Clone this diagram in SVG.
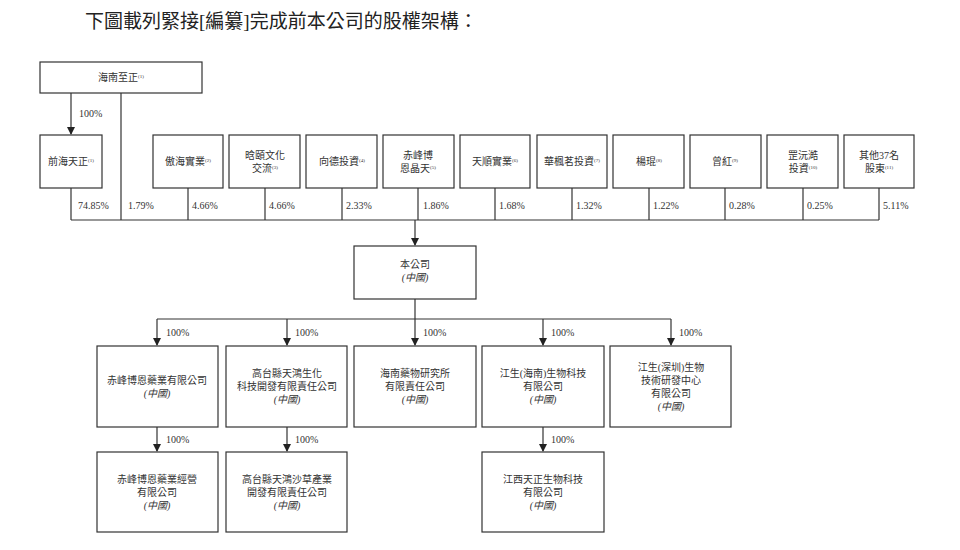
<svg xmlns="http://www.w3.org/2000/svg" width="960" height="550" viewBox="0 0 960 550">
<defs>
<marker id="ah" markerWidth="8" markerHeight="8" refX="7" refY="4" orient="auto" markerUnits="userSpaceOnUse"><path d="M0,0 L8,4 L0,8 z" fill="#222"/></marker>
<style>
rect{fill:#fff;stroke:#333;stroke-width:1.2}
text{font-family:"Liberation Serif","Noto Sans CJK TC",serif;font-size:10px;fill:#333;text-anchor:middle}
.s{font-size:5px}
.i{font-style:italic}
.p{text-anchor:start}
.t{font-size:19px;text-anchor:start;fill:#222}
#conn line,#conn path{stroke:#333;stroke-width:1.2;fill:none}
</style>
</defs>
<rect width="960" height="550" style="stroke:none"/>
<text class="t" x="85" y="28">下圖載列緊接[編纂]完成前本公司的股權架構：</text>
<g id="conn">
<line x1="71" y1="93" x2="71" y2="134" marker-end="url(#ah)"/>
<line x1="121" y1="93" x2="121" y2="220"/>
<line x1="71" y1="188" x2="71" y2="220"/>
<line x1="188" y1="188" x2="188" y2="220"/>
<line x1="265" y1="188" x2="265" y2="220"/>
<line x1="342" y1="188" x2="342" y2="220"/>
<line x1="418" y1="188" x2="418" y2="220"/>
<line x1="495" y1="188" x2="495" y2="220"/>
<line x1="572" y1="188" x2="572" y2="220"/>
<line x1="649" y1="188" x2="649" y2="220"/>
<line x1="725" y1="188" x2="725" y2="220"/>
<line x1="803" y1="188" x2="803" y2="220"/>
<line x1="879" y1="188" x2="879" y2="220"/>
<line x1="71" y1="220" x2="879" y2="220"/>
<line x1="415" y1="220" x2="415" y2="245" marker-end="url(#ah)"/>
<line x1="415" y1="299" x2="415" y2="319"/>
<line x1="157" y1="319" x2="671" y2="319"/>
<line x1="157" y1="319" x2="157" y2="345" marker-end="url(#ah)"/>
<line x1="287" y1="319" x2="287" y2="345" marker-end="url(#ah)"/>
<line x1="415" y1="319" x2="415" y2="345" marker-end="url(#ah)"/>
<line x1="543" y1="319" x2="543" y2="345" marker-end="url(#ah)"/>
<line x1="671" y1="319" x2="671" y2="345" marker-end="url(#ah)"/>
<line x1="157" y1="427" x2="157" y2="451" marker-end="url(#ah)"/>
<line x1="287" y1="427" x2="287" y2="451" marker-end="url(#ah)"/>
<line x1="543" y1="427" x2="543" y2="451" marker-end="url(#ah)"/>
<text class="p" x="79" y="117">100%</text>
<text class="p" x="78" y="209">74.85%</text>
<text class="p" x="128" y="209">1.79%</text>
<text class="p" x="192" y="209">4.66%</text>
<text class="p" x="269" y="209">4.66%</text>
<text class="p" x="346" y="209">2.33%</text>
<text class="p" x="423" y="209">1.86%</text>
<text class="p" x="499" y="209">1.68%</text>
<text class="p" x="576" y="209">1.32%</text>
<text class="p" x="653" y="209">1.22%</text>
<text class="p" x="729" y="209">0.28%</text>
<text class="p" x="807" y="209">0.25%</text>
<text class="p" x="883" y="209">5.11%</text>
<text class="p" x="166" y="336">100%</text>
<text class="p" x="295" y="336">100%</text>
<text class="p" x="423" y="336">100%</text>
<text class="p" x="551" y="336">100%</text>
<text class="p" x="679" y="336">100%</text>
<text class="p" x="166" y="443">100%</text>
<text class="p" x="295" y="443">100%</text>
<text class="p" x="551" y="443">100%</text>
</g>
<g id="n0"><rect x="40" y="62" width="162" height="31"/><text x="121" y="81">海南至正<tspan class="s" dy="-3">(1)</tspan></text></g>
<g id="n1"><rect x="40" y="135" width="62" height="53"/><text x="71" y="165">前海天正<tspan class="s" dy="-3">(1)</tspan></text></g>
<g id="n2"><rect x="153" y="135" width="70" height="53"/><text x="188" y="165">傲海實業<tspan class="s" dy="-3">(2)</tspan></text></g>
<g id="n3"><rect x="229" y="135" width="71" height="53"/><text x="265" y="159">晗頤文化</text><text x="265" y="172">交流<tspan class="s" dy="-3">(3)</tspan></text></g>
<g id="n4"><rect x="306" y="135" width="71" height="53"/><text x="342" y="165">向德投資<tspan class="s" dy="-3">(4)</tspan></text></g>
<g id="n5"><rect x="383" y="135" width="71" height="53"/><text x="418" y="159">赤峰博</text><text x="418" y="172">恩晶天<tspan class="s" dy="-3">(5)</tspan></text></g>
<g id="n6"><rect x="460" y="135" width="70" height="53"/><text x="495" y="165">天順實業<tspan class="s" dy="-3">(6)</tspan></text></g>
<g id="n7"><rect x="537" y="135" width="70" height="53"/><text x="572" y="165">華楓茗投資<tspan class="s" dy="-3">(7)</tspan></text></g>
<g id="n8"><rect x="613" y="135" width="71" height="53"/><text x="649" y="165">楊琨<tspan class="s" dy="-3">(8)</tspan></text></g>
<g id="n9"><rect x="690" y="135" width="71" height="53"/><text x="725" y="165">曾紅<tspan class="s" dy="-3">(9)</tspan></text></g>
<g id="n10"><rect x="767" y="135" width="71" height="53"/><text x="803" y="159">罡沅澔</text><text x="803" y="172">投資<tspan class="s" dy="-3">(10)</tspan></text></g>
<g id="n11"><rect x="844" y="135" width="70" height="53"/><text x="879" y="159">其他37名</text><text x="879" y="172">股東<tspan class="s" dy="-3">(11)</tspan></text></g>
<g id="co"><rect x="354" y="246" width="122" height="53"/><text x="415" y="268">本公司</text><text class="i" x="415" y="281">(中國)</text></g>
<g id="s1"><rect x="97" y="346" width="121" height="81"/><text x="157" y="384">赤峰博恩藥業有限公司</text><text class="i" x="157" y="397">(中國)</text></g>
<g id="s2"><rect x="226" y="346" width="121" height="81"/><text x="287" y="377">高台縣天鴻生化</text><text x="287" y="390">科技開發有限責任公司</text><text class="i" x="287" y="403">(中國)</text></g>
<g id="s3"><rect x="354" y="346" width="122" height="81"/><text x="415" y="377">海南藥物研究所</text><text x="415" y="390">有限責任公司</text><text class="i" x="415" y="403">(中國)</text></g>
<g id="s4"><rect x="482" y="346" width="122" height="81"/><text x="543" y="377">江生(海南)生物科技</text><text x="543" y="390">有限公司</text><text class="i" x="543" y="403">(中國)</text></g>
<g id="s5"><rect x="610" y="346" width="121" height="81"/><text x="671" y="371">江生(深圳)生物</text><text x="671" y="384">技術研發中心</text><text x="671" y="397">有限公司</text><text class="i" x="671" y="410">(中國)</text></g>
<g id="t1"><rect x="97" y="452" width="121" height="80"/><text x="157" y="483">赤峰博恩藥業經營</text><text x="157" y="496">有限公司</text><text class="i" x="157" y="509">(中國)</text></g>
<g id="t2"><rect x="226" y="452" width="121" height="80"/><text x="287" y="483">高台縣天鴻沙草產業</text><text x="287" y="496">開發有限責任公司</text><text class="i" x="287" y="509">(中國)</text></g>
<g id="t3"><rect x="482" y="452" width="122" height="80"/><text x="543" y="483">江西天正生物科技</text><text x="543" y="496">有限公司</text><text class="i" x="543" y="509">(中國)</text></g>
</svg>
